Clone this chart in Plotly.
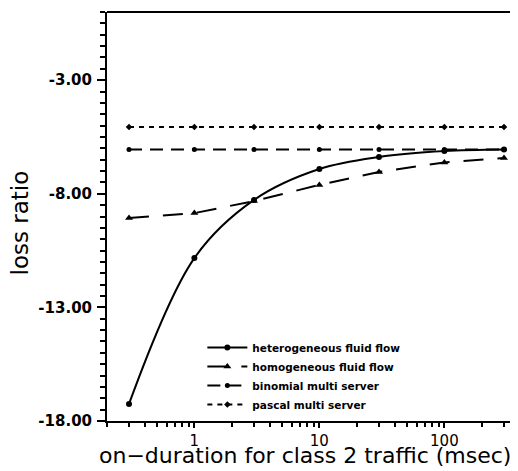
import plotly.graph_objects as go
import math

# ---- data ----
on_duration = [0.3, 1, 3, 10, 30, 100, 300]
hetero_fluid = [-17.25, -10.83, -8.27, -6.91, -6.38, -6.12, -6.05]
homo_fluid = [-9.07, -8.85, -8.32, -7.61, -7.04, -6.62, -6.43]
binomial_multi = [-6.05, -6.05, -6.05, -6.05, -6.05, -6.05, -6.05]
pascal_multi = [-5.06, -5.06, -5.06, -5.06, -5.06, -5.06, -5.06]

series_names = ["heterogeneous fluid flow", "homogeneous fluid flow",
                "binomial multi server", "pascal multi server"]

y_tickvals = [-3, -8, -13, -18]
y_ticktext = ["-3.00", "-8.00", "-13.00", "-18.00"]
x_tickvals = [1, 10, 100]
x_ticktext = ["1", "10", "100"]
x_title = "on\u2212duration for class 2 traffic (msec)"
y_title = "loss ratio"

FONT = "DejaVu Sans"

fig = go.Figure()
fig.add_trace(go.Scatter(x=on_duration, y=hetero_fluid, name=series_names[0],
                         mode="lines+markers", line=dict(color="black", width=2, shape="spline"),
                         marker=dict(symbol="circle", size=6, color="black")))
fig.add_trace(go.Scatter(x=on_duration, y=homo_fluid, name=series_names[1],
                         mode="lines+markers", line=dict(color="black", width=2, dash="20px,14px"),
                         marker=dict(symbol="triangle-up", size=7, color="black")))
fig.add_trace(go.Scatter(x=on_duration, y=binomial_multi, name=series_names[2],
                         mode="lines+markers", line=dict(color="black", width=2, dash="13px,8px"),
                         marker=dict(symbol="circle", size=5, color="black")))
fig.add_trace(go.Scatter(x=on_duration, y=pascal_multi, name=series_names[3],
                         mode="lines+markers", line=dict(color="black", width=2, dash="5px,5px"),
                         marker=dict(symbol="diamond", size=5, color="black")))

# page body has an 8px margin, so the figure is 8px smaller and margins shifted
fig.update_layout(
    width=510, height=463,
    margin=dict(l=99, r=0, t=4, b=50, autoexpand=False),
    paper_bgcolor="white", plot_bgcolor="white",
    font=dict(family=FONT, color="black"),
    showlegend=True,
    legend=dict(x=0.232, y=0.215, xanchor="left", yanchor="top",
                font=dict(family=FONT, size=10.5, color="black", weight="bold"),
                bgcolor="rgba(0,0,0,0)", tracegroupgap=0, itemwidth=40),
    annotations=[
        dict(text=x_title, xref="paper", yref="paper", x=0.482, y=-0.085,
             xanchor="center", yanchor="middle", showarrow=False,
             font=dict(family=FONT, size=22, color="black")),
        dict(text=y_title, xref="paper", yref="paper", x=-0.212, y=0.485,
             xanchor="center", yanchor="middle", showarrow=False, textangle=-90,
             font=dict(family=FONT, size=23, color="black")),
    ],
)

fig.update_xaxes(
    type="log", automargin=False,
    range=[math.log10(0.2), math.log10(0.2) + 411 / 125],
    showline=True, linecolor="black", linewidth=2,
    mirror=False, showgrid=False, zeroline=False,
    tickvals=x_tickvals, ticktext=x_ticktext,
    ticks="outside", ticklen=5, tickwidth=2, tickcolor="black",
    tickfont=dict(family=FONT, size=15, color="black"),
    minor=dict(ticks="outside", ticklen=4, tickwidth=2, tickcolor="black",
               tickvals=[0.2, 0.3, 0.4, 0.5, 0.6, 0.7, 0.8, 0.9,
                         2, 3, 4, 5, 6, 7, 8, 9,
                         20, 30, 40, 50, 60, 70, 80, 90,
                         200, 300]),
)

fig.update_yaxes(
    range=[-18, 0], automargin=False,
    showline=True, linecolor="black", linewidth=2,
    showgrid=False, zeroline=False,
    tickvals=y_tickvals, ticktext=y_ticktext,
    ticks="outside", ticklen=8, tickwidth=2, tickcolor="black",
    ticklabelstandoff=2,
    tickfont=dict(family=FONT, size=15, color="black", weight="bold"),
    minor=dict(ticks="outside", ticklen=5, tickwidth=2, tickcolor="black", dtick=0.5),
)

# top border line
fig.add_shape(type="line", xref="paper", yref="paper", x0=0, x1=1, y0=1, y1=1,
              line=dict(color="black", width=2))

fig.write_html("out.html")
